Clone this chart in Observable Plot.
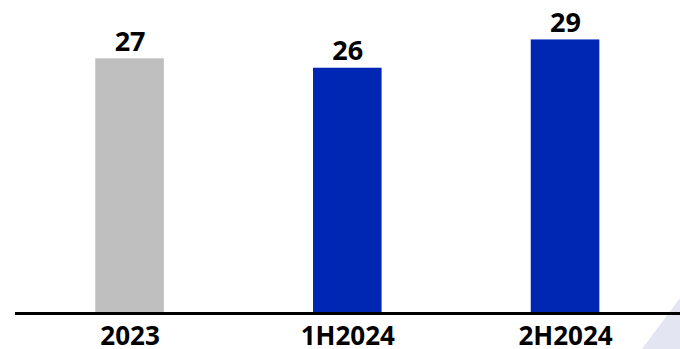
<!DOCTYPE html>
<html>
<head>
<meta charset="utf-8">
<script src="https://cdn.jsdelivr.net/npm/d3@7"></script>
<script src="https://cdn.jsdelivr.net/npm/@observablehq/plot@0.6"></script>
<style>
  html, body { margin: 0; padding: 0; background: #fff; }
  #wrap { position: relative; width: 680px; height: 349px; overflow: hidden; }
  #corner {
    position: absolute; right: 0; bottom: 0; width: 38px; height: 51px;
    background: #e3e5f3;
    clip-path: polygon(100% 0, 100% 100%, 0 100%);
  }
  #chart { position: absolute; left: 0; top: 0; }
</style>
</head>
<body>
<div id="wrap">
  <div id="corner"></div>
  <div id="chart"></div>
</div>
<script>
// Periods, values and bar colours
const periods = ["2023", "1H2024", "2H2024"];
const values = [27, 26, 29];
const colors = ["#bfbfbf", "#0027b3", "#0027b3"];

const rows = periods.map((p, i) => ({period: p, value: values[i], color: colors[i]}));

const chart = Plot.plot({
  width: 680,
  height: 349,
  marginTop: 0,
  marginBottom: 36,
  marginLeft: 15,
  marginRight: 0,
  style: {fontFamily: "'Open Sans', sans-serif", background: "transparent", color: "#000", overflow: "visible"},
  x: {domain: periods, range: [20.7, 673.9], paddingInner: 0.685, paddingOuter: 0.3425, round: false},
  y: {domain: [0, 30], range: [313, 30], axis: null},
  marks: [
    Plot.barY(rows, {x: "period", y: "value", fill: "color"}),
    Plot.ruleY([0], {stroke: "#000", strokeWidth: 3}),
    Plot.text(rows, {
      x: "period", y: "value", text: d => String(d.value),
      lineAnchor: "bottom", dy: -8, fontSize: 27, fontWeight: "bold", fill: "#000"
    }),
    Plot.axisX({tickSize: 0, tickPadding: 13, fontSize: 26, fontWeight: "bold", label: null, fill: "#000"})
  ]
});
document.getElementById("chart").appendChild(chart);
</script>
</body>
</html>
